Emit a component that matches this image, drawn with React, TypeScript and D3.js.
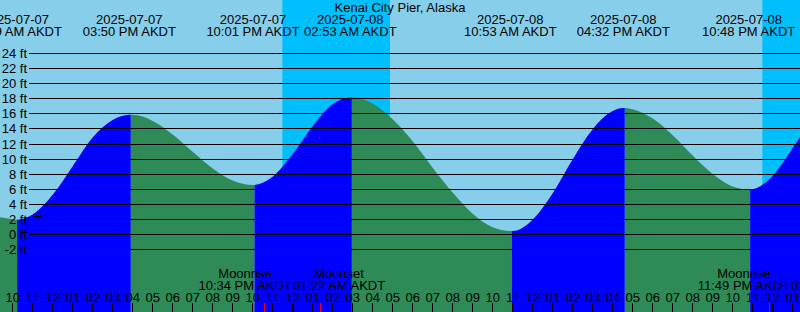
import React from "react";
import * as d3 from "d3";

const W = 800;
const H = 312;
const FONT_FAMILY = "'Liberation Sans', Arial, sans-serif";
const FONT_SIZE = 13;
const BOUNDARY_SHIFT = 1.5;

const title = "Kenai City Pier, Alaska";
const tz = "AKDT";

const domainStart = "2025-07-07T09:22";
const domainEnd = "2025-07-09T01:22";

// tide heights (ft)
const tideTimes = [
  "2025-07-07T09:00", "2025-07-07T10:00", "2025-07-07T10:09", "2025-07-07T11:00", "2025-07-07T12:00",
  "2025-07-07T13:00", "2025-07-07T14:00", "2025-07-07T15:00", "2025-07-07T15:50", "2025-07-07T16:00",
  "2025-07-07T17:00", "2025-07-07T18:00", "2025-07-07T19:00", "2025-07-07T20:00", "2025-07-07T21:00",
  "2025-07-07T22:01", "2025-07-07T23:00", "2025-07-08T00:00", "2025-07-08T01:00", "2025-07-08T02:00",
  "2025-07-08T02:53", "2025-07-08T03:00", "2025-07-08T04:00", "2025-07-08T05:00", "2025-07-08T06:00",
  "2025-07-08T07:00", "2025-07-08T08:00", "2025-07-08T09:00", "2025-07-08T10:00", "2025-07-08T10:53",
  "2025-07-08T11:00", "2025-07-08T12:00", "2025-07-08T13:00", "2025-07-08T14:00", "2025-07-08T15:00",
  "2025-07-08T16:00", "2025-07-08T16:32", "2025-07-08T17:00", "2025-07-08T18:00", "2025-07-08T19:00",
  "2025-07-08T20:00", "2025-07-08T21:00", "2025-07-08T22:00", "2025-07-08T22:48", "2025-07-08T23:00",
  "2025-07-09T00:00", "2025-07-09T01:00", "2025-07-09T02:00",
];
const tideFeet = [
  2.4, 1.95, 1.9, 2.6, 5.2,
  9.0, 12.8, 15.1, 15.8, 15.8,
  15.0, 13.2, 10.9, 8.7, 7.1,
  6.5, 7.6, 10.6, 14.3, 17.2,
  18.1, 18.1, 17.3, 15.2, 12.3,
  8.8, 5.5, 2.7, 0.9, 0.4,
  0.4, 1.9, 5.4, 9.9, 13.9,
  16.3, 16.7, 16.55, 15.3, 13.1,
  10.4, 7.95, 6.3, 5.9, 5.95,
  7.7, 11.4, 15.4,
];

const extremeTimes = [
  "2025-07-07T10:09", "2025-07-07T15:50", "2025-07-07T22:01", "2025-07-08T02:53",
  "2025-07-08T10:53", "2025-07-08T16:32", "2025-07-08T22:48",
];
const extremeKinds = ["low", "high", "low", "high", "low", "high", "low"];

const moonTimes = ["2025-07-07T22:34", "2025-07-08T01:22", "2025-07-08T23:49", "2025-07-09T02:00"];
const moonKinds = ["Moonrise", "Moonset", "Moonrise", "Moonset"];

const nightStarts = ["2025-07-07T23:29", "2025-07-08T23:29"];
const nightEnds = ["2025-07-08T04:52", "2025-07-09T04:52"];

const nowTime = "2025-07-07T11:14";
const nowFeet = 2.4;

const yTicks = [-2, 0, 2, 4, 6, 8, 10, 12, 14, 16, 18, 20, 22, 24];

const COLORS = {
  day: "#87CEEB",
  night: "#00BFFF",
  flood: "#0000FF",
  ebb: "#2E8B57",
  text: "#000000",
  moon: "#FF0000",
};

const parse = d3.timeParse("%Y-%m-%dT%H:%M");
const fmtDate = d3.timeFormat("%Y-%m-%d");
const fmtClock = d3.timeFormat("%I:%M %p");
const fmtHour = d3.timeFormat("%I");

let measureCtx: CanvasRenderingContext2D | null = null;
function textWidth(s: string): number {
  if (!measureCtx) {
    const c = document.createElement("canvas");
    measureCtx = c.getContext("2d");
  }
  if (!measureCtx) return s.length * 7;
  measureCtx.font = `${FONT_SIZE}px ${FONT_FAMILY}`;
  return measureCtx.measureText(s).width;
}

// push overlapping labels apart, keeping each cluster centred on its events
function placeLabels(centers: number[], widths: number[]): number[] {
  let clusters = centers.map((c, i) => ({ idx: [i] }));
  const info = (cl: { idx: number[] }) => {
    const w = d3.sum(cl.idx, (i) => widths[i]);
    const m = d3.mean(cl.idx, (i) => centers[i]) as number;
    return { left: m - w / 2, right: m + w / 2 };
  };
  let merged = true;
  while (merged) {
    merged = false;
    for (let k = 0; k < clusters.length - 1; k++) {
      const a = info(clusters[k]);
      const b = info(clusters[k + 1]);
      if (a.right > b.left) {
        clusters[k] = { idx: clusters[k].idx.concat(clusters[k + 1].idx) };
        clusters.splice(k + 1, 1);
        merged = true;
        break;
      }
    }
  }
  const out: number[] = new Array(centers.length);
  clusters.forEach((cl) => {
    let x = info(cl).left;
    cl.idx.forEach((i) => {
      out[i] = x + widths[i] / 2;
      x += widths[i];
    });
  });
  return out;
}

export default function App() {
  const x = d3.scaleTime().domain([parse(domainStart)!, parse(domainEnd)!]).range([0, W]);
  const y = d3.scaleLinear().domain([0, 24]).range([234, 53]);

  const tide = tideTimes.map((t, i) => ({ t: parse(t)!, v: tideFeet[i] }));
  const area = d3
    .area<{ t: Date; v: number }>()
    .x((d) => x(d.t))
    .y0(H)
    .y1((d) => y(d.v))
    .curve(d3.curveMonotoneX);

  const ext = extremeTimes.map((t, i) => ({ t: parse(t)!, kind: extremeKinds[i] }));
  const bounds = [x.range()[0], ...ext.map((e) => x(e.t) + BOUNDARY_SHIFT), x.range()[1]];
  const segs = bounds.slice(0, -1).map((b, i) => {
    let rising: boolean;
    if (i < ext.length) rising = ext[i].kind === "high";
    else rising = ext[ext.length - 1].kind === "low";
    return { x0: b, x1: bounds[i + 1], color: rising ? COLORS.flood : COLORS.ebb };
  });

  const extLines = ext.map((e) => [fmtDate(e.t), `${fmtClock(e.t)} ${tz}`]);
  const extW = extLines.map((l) => Math.max(textWidth(l[0]), textWidth(l[1])));
  const extX = placeLabels(ext.map((e) => x(e.t)), extW);

  const moon = moonTimes.map((t, i) => ({ t: parse(t)!, kind: moonKinds[i] }));
  const moonLines = moon.map((m) => [m.kind, `${fmtClock(m.t)} ${tz}`]);
  const moonW = moonLines.map((l) => Math.max(textWidth(l[0]), textWidth(l[1])));
  const moonX = placeLabels(moon.map((m) => x(m.t)), moonW);

  const hours = x.ticks(d3.timeHour.every(1)!);

  const nowX = Math.round(x(parse(nowTime)!));
  const nowY = Math.round(y(nowFeet));

  return (
    <svg
      width={W}
      height={H}
      style={{ position: "fixed", left: 0, top: 0, display: "block" }}
      fontFamily={FONT_FAMILY}
      fontSize={FONT_SIZE}
    >
      <defs>
        <clipPath id="water">
          <path d={area(tide) || ""} />
        </clipPath>
      </defs>
      <rect x={0} y={0} width={W} height={H} fill={COLORS.day} />
      {nightStarts.map((s, i) => {
        const a = x(parse(s)!);
        const b = x(parse(nightEnds[i])!);
        return <rect key={"n" + i} x={a} y={0} width={Math.max(0, b - a)} height={H} fill={COLORS.night} />;
      })}
      <g clipPath="url(#water)">
        {segs.map((s, i) => (
          <rect key={"s" + i} x={s.x0} y={0} width={Math.max(0, s.x1 - s.x0)} height={H} fill={s.color} />
        ))}
      </g>

      {yTicks.map((v) => {
        const yy = Math.round(y(v)) + 0.5;
        return (
          <g key={"y" + v}>
            <line x1={29} x2={W} y1={yy} y2={yy} stroke="#000" strokeWidth={1} shapeRendering="crispEdges" />
            <text x={27} y={yy + 4} textAnchor="end" fill={COLORS.text}>
              {`${v} ft`}
            </text>
          </g>
        );
      })}

      <text x={W / 2} y={11.5} textAnchor="middle" fill={COLORS.text}>
        {title}
      </text>
      {extLines.map((l, i) => (
        <g key={"e" + i}>
          <text x={extX[i]} y={23.5} textAnchor="middle" fill={COLORS.text}>
            {l[0]}
          </text>
          <text x={extX[i]} y={36} textAnchor="middle" fill={COLORS.text}>
            {l[1]}
          </text>
        </g>
      ))}

      {moonLines.map((l, i) => (
        <g key={"m" + i}>
          <text x={moonX[i]} y={278} textAnchor="middle" fill={COLORS.text}>
            {l[0]}
          </text>
          <text x={moonX[i]} y={289.5} textAnchor="middle" fill={COLORS.text}>
            {l[1]}
          </text>
        </g>
      ))}

      {hours.map((h, i) => {
        const xx = x(h);
        const px = Math.floor(xx) + 0.5;
        return (
          <g key={"h" + i}>
            <text x={xx} y={301.5} textAnchor="middle" fill={COLORS.text}>
              {fmtHour(h)}
            </text>
            <line
              x1={px}
              x2={px}
              y1={303}
              y2={H}
              stroke="#000"
              strokeWidth={h.getHours() === 0 ? 3 : 1}
              shapeRendering="crispEdges"
            />
          </g>
        );
      })}
      {moon.map((m, i) => {
        const px = Math.floor(x(m.t)) + 0.5;
        return (
          <line key={"mt" + i} x1={px} x2={px} y1={303} y2={H} stroke={COLORS.moon} strokeWidth={1} shapeRendering="crispEdges" />
        );
      })}

      <line x1={nowX - 4.5} x2={nowX + 4.5} y1={nowY + 0.5} y2={nowY + 0.5} stroke="#000" shapeRendering="crispEdges" />
      <line x1={nowX + 0.5} x2={nowX + 0.5} y1={nowY - 4} y2={nowY + 4} stroke="#000" shapeRendering="crispEdges" />
    </svg>
  );
}
